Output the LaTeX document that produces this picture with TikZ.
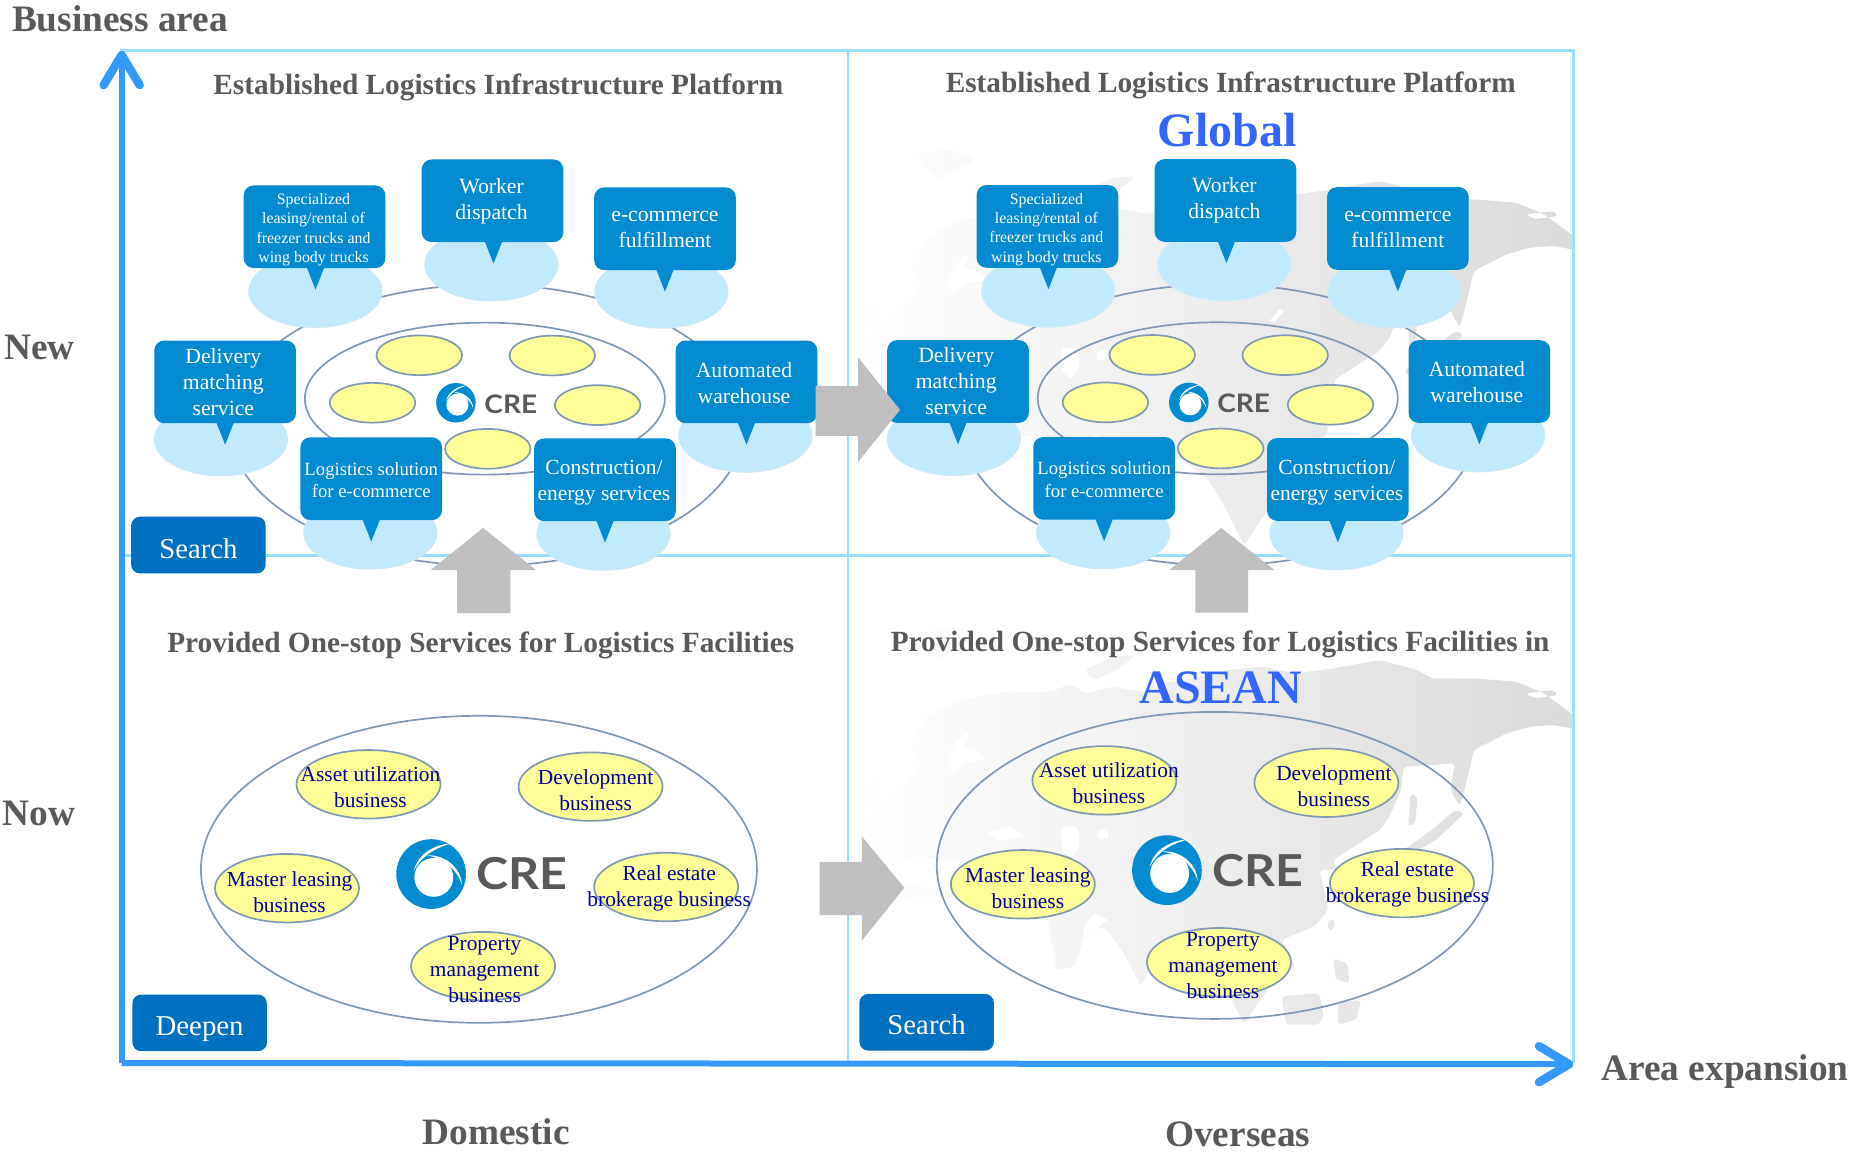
\documentclass[tikz,border=0pt]{standalone}
\usepackage{fontspec}
\usepackage{graphicx}
\setmainfont{Liberation Serif}
\newfontfamily\crefont{Lato}
\usetikzlibrary{shapes.geometric,arrows.meta}
\definecolor{framec}{HTML}{99DDFF}
\definecolor{axisc}{HTML}{3399FF}
\definecolor{cbblue}{HTML}{028BD0}
\definecolor{lightb}{HTML}{C2EAFD}
\definecolor{lightedge}{HTML}{D6E8F2}
\definecolor{ringc}{HTML}{7F99B5}
\definecolor{yellowf}{HTML}{FFFF99}
\definecolor{txtgray}{HTML}{595959}
\definecolor{navyt}{HTML}{000099}
\definecolor{bigblue}{HTML}{3366FF}
\definecolor{arrowg}{HTML}{BFBFBF}
\definecolor{stagec}{HTML}{0070C0}
\definecolor{mapL}{HTML}{FFFFFF}
\definecolor{mapM}{HTML}{F0F0F0}
\definecolor{mapR}{HTML}{DADADA}
\tikzset{
  framel/.style={draw=framec,line width=2.6pt},
  axisl/.style={draw=axisc,line width=6pt,-{Straight Barb[length=30pt,width=36pt,line width=8.5pt,round]}},
  bluebox/.style={fill=cbblue,rounded corners=10pt,minimum width=141.7pt,minimum height=82.7pt,inner sep=0pt},
  bluetxt/.style={text=white,align=center,inner sep=0pt},
  tailf/.style={fill=cbblue},
  haloell/.style={ellipse,fill=lightb,draw=lightedge,line width=.8pt,minimum width=133.5pt,minimum height=73pt,inner sep=0pt},
  ringell/.style={ellipse,draw=ringc,line width=1.7pt,inner sep=0pt},
  dotell/.style={ellipse,fill=yellowf,draw=ringc,line width=1.7pt,minimum width=85.6pt,minimum height=39.8pt,inner sep=0pt},
  bizell/.style={ellipse,fill=yellowf,draw=ringc,line width=1.7pt,minimum width=144pt,minimum height=68.5pt,inner sep=0pt},
  biztxt/.style={text=navyt,align=center,inner sep=0pt,font=\fontsize{21.4}{26}\selectfont},
  headtxt/.style={text=txtgray,inner sep=0pt,font=\fontsize{29.3}{34}\selectfont\bfseries},
  axistxt/.style={text=txtgray,inner sep=0pt,font=\fontsize{37.3}{42}\selectfont\bfseries},
  bigtxt/.style={text=bigblue,inner sep=0pt,font=\fontsize{48}{52}\selectfont\bfseries},
  stagebox/.style={fill=stagec,rounded corners=9pt,minimum width=134.6pt,minimum height=56.7pt,inner sep=0pt},
  stagetxt/.style={text=white,inner sep=0pt,font=\fontsize{28.8}{32}\selectfont},
  bigarrow/.style={fill=arrowg}
}
% world map, drawn in its own coordinates
\newcommand\worldmap[1]{%
\begin{scope}[shift={(719.7,#1)},x=0.469pt,y=-0.333pt]
\clip (5,-220) rectangle (1542,1125);
\shade[left color=mapL,middle color=mapM,right color=mapR,rounded corners=4pt]
 (10,1125) -- (10,790) -- (60,760) -- (150,740) -- (230,745) -- (300,770) -- (340,800)
 -- (420,790) -- (440,960) -- (480,950) -- (500,850) -- (540,830) -- (580,900) -- (620,1010)
 -- (660,900) -- (700,860) -- (760,920) -- (800,1010) -- (840,1125) -- (870,1060) -- (900,1000)
 -- (950,950) -- (920,870) -- (990,830) -- (1020,780) -- (1010,710) -- (1000,660) -- (1040,660)
 -- (1030,630) -- (1085,580) -- (1130,540) -- (1150,500) -- (1175,420) -- (1180,350) -- (1240,345)
 -- (1290,340) -- (1280,420) -- (1300,470) -- (1310,420) -- (1330,300) -- (1400,250) -- (1450,230)
 -- (1500,225) -- (1557,240) -- (1557,210) -- (1480,130) -- (1420,95) -- (1330,85) -- (1240,85)
 -- (1210,60) -- (1130,30) -- (1030,55) -- (950,70) -- (880,50) -- (800,60) -- (720,90) -- (660,100)
 -- (640,130) -- (560,110) -- (500,130) -- (470,100) -- (430,125) -- (330,125) -- (230,150)
 -- (165,200) -- (130,280) -- (150,350) -- (110,420) -- (60,480) -- (20,520) -- (10,600) -- (70,640)
 -- (30,700) -- (10,740) -- cycle
 (500,60) -- (560,20) -- (610,15) -- (570,60) -- (520,90) -- cycle
 (140,-50) -- (210,-65) -- (270,-35) -- (220,0) -- (190,30) -- (160,-10) -- cycle
 (1440,130) -- (1500,120) -- (1510,135) -- (1460,145) -- cycle
 (30,400) -- (60,390) -- (55,470) -- (20,480) -- cycle
 (1195,430) -- (1210,440) -- (1205,520) -- (1190,530) -- cycle
 (1180,600) -- (1240,540) -- (1290,480) -- (1310,490) -- (1250,570) -- (1190,615) -- cycle
 (1020,810) -- (1035,810) -- (1030,845) -- (1018,840) -- cycle
 (1030,925) -- (1060,940) -- (1065,1000) -- (1035,990) -- cycle
 (920,1040) -- (1000,1030) -- (1010,1100) -- (1000,1125) -- (930,1125) -- cycle
 (1040,1060) -- (1090,1050) -- (1080,1110) -- (1040,1125) -- cycle;
\fill[white,rounded corners=3pt] (205,330) -- (225,280) -- (250,245) -- (258,255) -- (235,290) -- (270,300) -- (290,330) -- (240,340) -- (220,370) -- cycle;
\fill[white,rounded corners=3pt] (290,545) -- (345,530) -- (370,560) -- (320,575) -- cycle;
\fill[white,rounded corners=3pt] (450,530) -- (485,530) -- (490,590) -- (470,625) -- (452,600) -- cycle;
\fill[white,rounded corners=2pt] (525,545) -- (548,535) -- (552,565) -- (530,570) -- cycle;
\fill[white] (342,805) -- (355,800) -- (415,925) -- (405,935) -- cycle;
\fill[white,rounded corners=2pt] (520,790) -- (550,810) -- (500,860) -- (495,840) -- cycle;
\fill[white,rounded corners=4pt] (60,650) -- (150,620) -- (230,640) -- (300,620) -- (320,690) -- (230,730) -- (120,700) -- cycle;
\fill[white] (895,450) -- (915,415) -- (925,420) -- (905,455) -- cycle;
\end{scope}}
% CRE mark: #1 name, #2 centre, #3 unit, #4 font size, #5 text position
\newcommand\crelogo[5]{%
\begin{scope}[shift={#2},x=#3,y=-#3]
\fill[cbblue] (0,0) circle[radius=104];
\fill[white] (-52,-10) .. controls (-38,-62) and (10,-88) .. (62,-92) .. controls (20,-80) and (-22,-62) .. (-52,-10) -- cycle;
\fill[white] (-12,-56) .. controls (40,-58) and (88,-22) .. (92,32) .. controls (80,-10) and (40,-46) .. (-12,-56) -- cycle;
\fill[white] (8,10) circle[radius=58];
\end{scope}
\node[text=txtgray,inner sep=0pt,font=\crefont\bfseries\fontsize{#4}{#4}\selectfont] (#1) at #5 {\scalebox{1.1}[1]{CRE}};}
% box, tail, text: #1 name, #2 centre, #3 text, #4 tail dx, #5 size, #6 leading, #7 text dx, #8 text dy
\newcommand\bubble[8]{%
\node[bluebox] (#1) at #2 {};
\fill[tailf] ([xshift=#4-8.8pt,yshift=1pt]#1.south) -- ([xshift=#4+8.8pt,yshift=1pt]#1.south) -- ([xshift=#4,yshift=-21.3pt]#1.south) -- cycle;
\node[bluetxt,font=\fontsize{#5}{#6}\selectfont] (#1t) at ([xshift=#7,yshift=#8]#1.center) {#3};}
% the upper service cluster
\newcommand\platform[2]{%
\begin{scope}[shift={#2}]
\node[ringell,minimum width=515pt,minimum height=281pt] (#1big) at (412,360) {};
\node[haloell] (#1ha) at (267,246.5) {};
\node[haloell] (#1hb) at (416,224) {};
\node[haloell] (#1hc) at (560,247) {};
\node[haloell] (#1hd) at (187,372) {};
\node[haloell] (#1he) at (631,369) {};
\node[haloell] (#1hf) at (313.5,451) {};
\node[haloell] (#1hg) at (511,452) {};
\node[ringell,minimum width=360pt,minimum height=152pt] (#1inner) at (410.5,337.5) {};
\node[dotell] (#1d1) at (355,300.8) {};
\node[dotell] (#1d2) at (467.6,301) {};
\node[dotell] (#1d3) at (315.4,341) {};
\node[dotell] (#1d4) at (506,343) {};
\node[dotell] (#1d5) at (413,380) {};
\crelogo{#1cre}{(386,341)}{0.19pt}{25.5}{(432.5,342)}
\bubble{#1a}{(266.3,192)}{Specialized\\leasing/rental of\\freezer trucks and\\wing body trucks}{1pt}{15.9}{19.2}{-1pt}{-3pt}
\bubble{#1b}{(417,170)}{Worker\\dispatch}{1pt}{21.7}{26}{-1pt}{0pt}
\bubble{#1c}{(563,193.7)}{e-commerce\\fulfillment}{0pt}{21.7}{26}{0pt}{-1pt}
\bubble{#1e}{(190.6,323.3)}{Delivery\\matching\\service}{0pt}{21.7}{26}{-1.8pt}{0pt}
\bubble{#1f}{(632,323.3)}{Automated\\warehouse}{0pt}{21.7}{26}{-2.5pt}{-1pt}
\bubble{#1g}{(314.3,405.3)}{Logistics solution\\for e-commerce}{0pt}{18.7}{22.6}{0pt}{-1.5pt}
\bubble{#1h}{(512.2,406.2)}{Construction/\\energy services}{0pt}{21.5}{26}{-1pt}{-3pt}
\end{scope}}
% the lower service cluster: #3 is the horizontal offset of the texts
\newcommand\onestop[3]{%
\begin{scope}[shift={#2}]
\node[ringell,minimum width=556pt,minimum height=307pt] (#1big) at (405.5,736) {};
\node[bizell] (#1as) at (312,664) {};
\node[bizell] (#1de) at (500,666) {};
\node[bizell] (#1ma) at (243,752) {};
\node[bizell] (#1re) at (564,751) {};
\node[bizell] (#1pr) at (409,818) {};
\node[biztxt] (#1tas) at ([xshift=#3+2pt,yshift=-2.5pt]#1as.center) {Asset utilization\\business};
\node[biztxt] (#1tde) at ([xshift=#3+5pt,yshift=-3.5pt]#1de.center) {Development\\business};
\node[biztxt] (#1tma) at ([xshift=#3+2.5pt,yshift=-3.5pt]#1ma.center) {Master leasing\\business};
\node[biztxt] (#1tre) at ([xshift=#3+3pt,yshift=-1pt]#1re.center) {Real estate\\brokerage business};
\node[biztxt] (#1tpr) at ([xshift=#3+1.5pt,yshift=-3pt]#1pr.center) {Property\\management\\business};
\crelogo{#1cre}{(365,740)}{0.335pt}{44}{(442,740)}
\end{scope}}
\begin{document}
\begin{tikzpicture}[x=1.18112pt,y=-1.18112pt]
\useasboundingbox (0,0) rectangle (1568,976.2);
\worldmap{144.8}
\worldmap{550.4}
% frame
\coordinate (ftl) at (103,43); \coordinate (ftm) at (718,43); \coordinate (ftr) at (1332,43);
\coordinate (fml) at (103,470.5); \coordinate (fmr) at (1332,470.5);
\coordinate (fbl) at (103,899); \coordinate (fbm) at (718,899); \coordinate (fbr) at (1332,899);
\draw[framel] (ftl) -- (ftr) -- (fbr) -- (fbl) -- cycle;
\draw[framel] (ftm) -- (fbm);
\draw[framel] (fml) -- (fmr);
% panel headings
\node[headtxt] (h1) at (422,74) {Established Logistics Infrastructure Platform};
\node[headtxt] (h2) at (1042,72.5) {Established Logistics Infrastructure Platform};
\node[headtxt] (h3) at (407,546.5) {Provided One-stop Services for Logistics Facilities};
\node[headtxt] (h4) at (1033,545.5) {Provided One-stop Services for Logistics Facilities in};
\node[bigtxt] (gl) at (1039,110) {Global};
\node[bigtxt] (as) at (1033.7,582) {ASEAN};
% clusters
\platform{p}{(0,0)}
\platform{q}{(620.5,-0.3)}
\onestop{s}{(0,0)}{0pt}
\onestop{t}{(623,-3.3)}{2.5pt}
% stage labels
\node[stagebox] (st1) at (168,461.5) {};
\node[stagetxt] (st1t) at ([yshift=-3.5pt]st1.center) {Search};
\node[stagebox] (st2) at (169,866) {};
\node[stagetxt] (st2t) at ([yshift=-6pt]st2.center) {Deepen};
\node[stagebox] (st3) at (784.5,865.5) {};
\node[stagetxt] (st3t) at ([yshift=-2.5pt]st3.center) {Search};
% transition arrows
\fill[bigarrow] (690.6,326.7) -- (726.5,326.7) -- (726.5,302.6) -- (762,347) -- (726.5,391) -- (726.5,369) -- (690.6,369) -- cycle;
\fill[bigarrow] (694,729.6) -- (729.6,729.6) -- (729.6,708) -- (765.6,751.6) -- (729.6,796.5) -- (729.6,774.8) -- (694,774.8) -- cycle;
\fill[bigarrow] (387,519) -- (387,482.7) -- (364.6,482.7) -- (409,447) -- (454,482.7) -- (432,482.7) -- (432,519) -- cycle;
\fill[bigarrow] (1012,518.6) -- (1012,482.7) -- (990,482.7) -- (1034,447) -- (1079,482.7) -- (1056.7,482.7) -- (1056.7,518.6) -- cycle;
% axes
\coordinate (org) at (103,900);
\coordinate (ytip) at (103,43);
\coordinate (xtip) at (1332,901);
\draw[axisl] (org) -- (ytip);
\draw[axisl] (org) -- (xtip);
% axis labels
\node[axistxt,anchor=west] (lb) at (10,16) {Business area};
\node[axistxt] (lnew) at (33.5,294) {New};
\node[axistxt] (lnow) at (33,689) {Now};
\node[axistxt] (lar) at (1460.5,907) {Area expansion};
\node[axistxt] (ldo) at (420,958) {Domestic};
\node[axistxt] (lov) at (1048,960) {Overseas};
\end{tikzpicture}
\end{document}
